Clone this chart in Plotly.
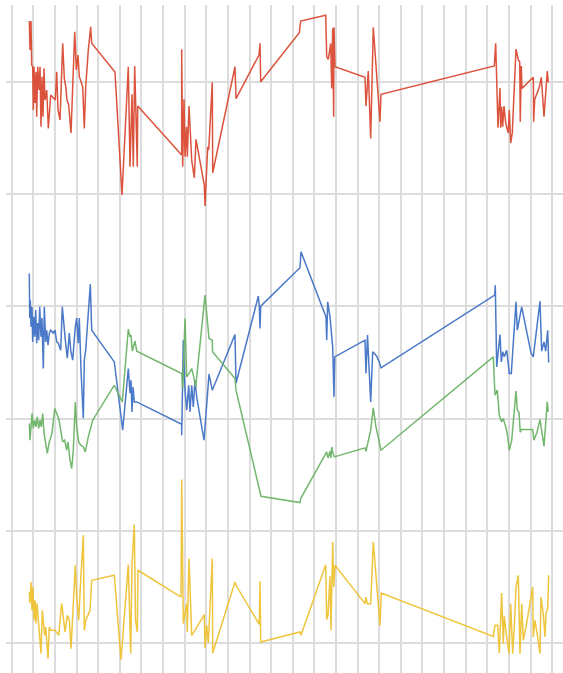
import plotly.graph_objects as go

# ---- data (x in grid units, y in grid units) ----
red_x = [0.814, 0.846, 0.893, 0.925, 0.971, 0.999, 1.031, 1.078, 1.124, 1.156, 1.203, 1.263, 1.309, 1.355, 1.401,
         1.448, 1.494, 1.540, 1.619, 1.693, 1.804, 1.924, 2.017, 2.081, 2.142, 2.234, 2.359, 2.433, 2.498, 2.558,
         2.636, 2.743, 2.914, 2.988, 3.067, 3.127, 3.284, 3.358, 3.423, 3.543, 3.654, 3.700, 4.778, 5.102, 5.393,
         5.472, 5.564, 5.624, 5.689, 5.809, 5.828, 7.863, 7.863, 7.909, 7.970, 8.016, 8.085, 8.122, 8.201, 8.326,
         8.446, 8.525, 8.908, 8.941, 9.066, 9.112, 9.278, 9.297, 10.328, 10.375, 11.439, 11.485, 11.517, 13.302,
         13.367, 14.524, 14.570, 14.644, 14.755, 14.801, 14.847, 14.893, 14.907, 14.954, 16.341, 16.388, 16.494,
         16.605, 16.725, 17.035, 17.081, 22.322, 22.387, 22.493, 22.586, 22.618, 22.664, 22.710, 22.771, 22.849,
         22.969, 23.016, 23.080, 23.154, 23.233, 23.326, 23.432, 23.497, 23.524, 23.571, 23.603, 24.126, 24.144,
         24.191, 24.403, 24.496, 24.621, 24.773, 24.820]
red_y = [5.547, 5.288, 5.547, 5.155, 5.139, 4.753, 5.139, 4.815, 5.095, 4.693, 5.139, 4.931, 5.139, 4.604, 5.050,
         4.693, 5.125, 4.842, 4.931, 4.589, 4.887, 4.857, 4.842, 5.095, 4.753, 4.663, 5.348, 5.036, 4.961, 4.842,
         4.797, 4.547, 5.452, 5.110, 5.244, 5.050, 4.961, 4.589, 4.961, 5.288, 5.496, 5.348, 5.092, 3.994, 5.139,
         4.246, 4.893, 4.246, 5.146, 4.246, 4.788, 4.351, 5.295, 4.246, 4.848, 4.336, 4.604, 4.336, 4.788, 4.306,
         4.148, 4.491, 4.083, 3.896, 4.425, 4.396, 5.000, 4.193, 5.139, 4.854, 5.244, 5.348, 5.005, 5.443,
         5.547, 5.598, 5.229, 5.205, 5.348, 4.946, 5.482, 4.693, 5.491, 5.139, 5.045, 4.788, 5.101,
         4.500, 5.491, 4.648, 4.893, 5.146, 5.348, 4.595, 4.949, 4.595, 4.782, 4.604, 4.788, 4.637,
         4.547, 4.753, 4.458, 4.547, 4.842, 5.297, 5.199, 5.184, 4.648, 5.146, 4.946, 5.045, 4.648,
         4.848, 4.955, 5.045, 4.693, 5.101, 5.000]

blue_x = [0.814, 0.833, 0.860, 0.893, 0.939, 0.971, 1.018, 1.064, 1.110, 1.156, 1.203, 1.249, 1.295, 1.355, 1.401,
          1.462, 1.508, 1.573, 1.619, 1.679, 1.739, 1.804, 1.924, 2.003, 2.081, 2.155, 2.266, 2.340, 2.419, 2.479,
          2.572, 2.664, 2.729, 2.821, 2.942, 3.006, 3.080, 3.127, 3.205, 3.312, 3.358, 3.423, 3.636, 3.700, 4.746,
          5.134, 5.393, 5.472, 5.518, 5.564, 5.611, 5.671, 5.782, 7.863, 7.863, 7.937, 8.016, 8.094, 8.187, 8.247,
          8.326, 8.400, 8.478, 8.557, 8.895, 9.126, 9.278, 10.328, 10.375, 11.406, 11.452, 11.485, 11.517, 13.335,
          13.381, 14.537, 14.570, 14.616, 14.722, 14.801, 14.847, 14.907, 14.940, 16.341, 16.388, 16.457, 16.605,
          16.697, 16.883, 17.003, 17.081, 22.340, 22.368, 22.433, 22.586, 22.646, 22.710, 22.785, 22.895, 23.016,
          23.108, 23.326, 23.386, 23.589, 24.020, 24.126, 24.436, 24.514, 24.621, 24.699, 24.792, 24.838]
blue_y = [3.295, 2.896, 3.056, 2.818, 2.996, 2.684, 2.907, 2.729, 2.967, 2.672, 2.851, 2.699, 2.996, 2.729, 2.896,
          2.446, 2.996, 2.684, 2.788, 2.654, 2.762, 2.788, 2.762, 2.788, 2.684, 2.672, 2.610, 2.996, 2.788, 2.699,
          2.538, 2.762, 2.610, 2.521, 2.818, 2.896, 2.672, 2.896, 2.431, 2.003, 2.521, 2.610, 3.199, 2.788, 2.505,
          1.896, 2.446, 2.226, 2.342, 2.059, 2.282, 2.148, 2.148, 1.949, 1.851, 2.699, 2.253, 2.074, 2.297, 2.059,
          2.297, 2.104, 2.342, 2.193, 1.806, 2.396, 2.253, 2.750, 2.315, 3.092, 3.003, 2.804, 3.003, 3.345,
          3.488, 2.907, 2.699, 3.041, 2.907, 2.744, 2.639, 2.193, 2.550, 2.699, 2.402, 2.746, 2.148,
          2.595, 2.556, 2.505, 2.452, 3.101, 3.190, 2.461, 2.750, 2.505, 2.595, 2.550, 2.610, 2.402,
          2.402, 3.041, 2.788, 2.996, 2.586, 2.550, 3.047, 2.601, 2.684, 2.601, 2.788, 2.500]

green_x = [0.814, 0.846, 0.893, 0.939, 0.999, 1.064, 1.124, 1.184, 1.249, 1.309, 1.369, 1.434, 1.494, 1.554, 1.647,
           1.739, 1.864, 1.989, 2.081, 2.174, 2.266, 2.359, 2.451, 2.544, 2.604, 2.697, 2.775, 2.849, 2.942, 3.006,
           3.099, 3.191, 3.312, 3.404, 3.543, 3.654, 3.747, 4.746, 5.116, 5.393, 5.472, 5.518, 5.578, 5.703, 5.782,
           7.863, 7.909, 8.016, 8.094, 8.201, 8.326, 8.400, 8.511, 8.941, 9.126, 9.278, 9.290, 10.328, 10.375,
           11.531, 13.335, 13.367, 14.570, 14.630, 14.722, 14.769, 14.801, 14.847, 14.921, 16.341, 16.388, 16.605,
           16.725, 16.850, 17.081, 22.276, 22.354, 22.461, 22.553, 22.664, 22.738, 22.849, 22.923, 23.016, 23.127,
           23.326, 23.386, 23.465, 23.524, 23.589, 24.098, 24.154, 24.297, 24.436, 24.528, 24.621, 24.773, 24.820]
green_y = [1.955, 1.806, 1.925, 2.045, 1.913, 1.985, 1.925, 2.014, 1.911, 1.985, 1.925, 2.045, 1.869, 1.779, 1.688,
           1.791, 1.869, 2.089, 2.045, 2.000, 1.896, 1.791, 1.806, 1.717, 1.791, 1.628, 1.554, 1.717, 2.148, 1.925,
           1.791, 1.762, 1.746, 1.702, 1.836, 1.925, 1.985, 2.297, 2.148, 2.797, 2.729, 2.744, 2.601, 2.693, 2.601,
           2.402, 2.268, 2.893, 2.371, 2.402, 2.446, 2.387, 2.282, 3.101, 2.714, 2.699, 2.595, 2.357, 2.253,
           1.306, 1.250, 1.286, 1.702, 1.648, 1.708, 1.648, 1.746, 1.702, 1.657, 1.738, 1.708, 1.896,
           2.095, 1.925, 1.717, 2.550, 2.208, 2.253, 2.029, 1.970, 2.000, 1.925, 1.866, 1.717, 1.806,
           2.246, 2.074, 2.056, 1.878, 1.902, 1.902, 1.806, 1.878, 1.991, 1.869, 1.753, 2.148, 2.059]

yellow_x = [0.814, 0.846, 0.893, 0.939, 0.985, 1.031, 1.078, 1.124, 1.170, 1.216, 1.277, 1.355, 1.415, 1.462, 1.526,
            1.573, 1.679, 1.739, 1.804, 2.003, 2.174, 2.313, 2.387, 2.465, 2.572, 2.664, 2.743, 2.942, 3.006, 3.099,
            3.173, 3.312, 3.358, 3.423, 3.622, 3.700, 4.746, 5.056, 5.393, 5.504, 5.564, 5.671, 5.726, 5.809, 5.842,
            7.831, 7.863, 7.937, 8.094, 8.122, 8.201, 8.326, 8.478, 8.908, 8.941, 9.019, 9.093, 9.278, 9.297,
            10.328, 10.375, 11.452, 11.485, 11.517, 13.335, 13.381, 14.524, 14.570, 14.630, 14.722, 14.769, 14.847,
            14.893, 14.954, 16.341, 16.388, 16.448, 16.605, 16.725, 17.035, 17.095, 22.276, 22.354, 22.479, 22.553,
            22.664, 22.738, 22.785, 22.895, 23.002, 23.080, 23.173, 23.247, 23.326, 23.432, 23.511, 23.589, 23.663,
            23.788, 24.098, 24.126, 24.204, 24.329, 24.436, 24.482, 24.588, 24.667, 24.713, 24.792, 24.838]
yellow_y = [0.452, 0.351, 0.541, 0.288, 0.496, 0.199, 0.378, 0.172, 0.351, 0.217, 0.095, -0.098, 0.288, 0.199, 0.065,
            0.139, -0.143, 0.139, 0.110, 0.110, 0.065, 0.351, 0.199, 0.095, 0.244, 0.199, -0.054, 0.690, 0.407, 0.199,
            0.496, 0.958, 0.110, 0.199, 0.288, 0.556, 0.601, -0.152, 0.696, -0.098, 0.699, 1.054, 0.199, 0.095, 0.646,
            0.407, 1.455, 0.170, 0.348, 0.095, 0.750, 0.065, 0.110, 0.250, -0.048, 0.154, -0.004, 0.750, -0.093,
            0.541, 0.512, 0.163, 0.547, 0.005, 0.095, 0.065, 0.696, 0.205, 0.244, 0.592, 0.110, 0.898,
            0.496, 0.690, 0.348, 0.407, 0.348, 0.348, 0.898, 0.154, 0.443, 0.056, 0.154, 0.154, -0.093,
            0.443, -0.009, 0.235, 0.050, -0.098, 0.348, -0.098, 0.139, 0.496, 0.601, -0.098, 0.348, 0.021,
            0.139, 0.496, 0.050, 0.199, 0.050, -0.098, 0.407, 0.259, 0.050, 0.259, 0.304, 0.601]

series = [
    (red_x, red_y, "#db4a33"),
    (blue_x, blue_y, "#4172c6"),
    (green_x, green_y, "#6cb366"),
    (yellow_x, yellow_y, "#eec232"),
]

fig = go.Figure()
for xs, ys, col in series:
    fig.add_trace(go.Scatter(x=xs, y=ys, mode="lines", line=dict(color=col, width=1.5),
                             opacity=0.95, hoverinfo="skip", showlegend=False))

fig.update_layout(
    width=563, height=673,
    margin=dict(l=6, r=0, t=5, b=0),
    paper_bgcolor="white", plot_bgcolor="white",
    showlegend=False,
)
fig.update_xaxes(range=[-0.264, 25.5], tick0=0, dtick=1, showticklabels=False, ticks="",
                 showgrid=True, gridcolor="#dcdcdc", gridwidth=1.5, zeroline=False, showline=False)
fig.update_yaxes(range=[-0.271, 5.69], tick0=0, dtick=1, showticklabels=False, ticks="",
                 showgrid=True, gridcolor="#dcdcdc", gridwidth=1.5, zeroline=False, showline=False)

fig.write_html("out.html", config={"displayModeBar": False},
               post_script="document.body.style.margin='0';document.body.style.overflow='hidden';")
